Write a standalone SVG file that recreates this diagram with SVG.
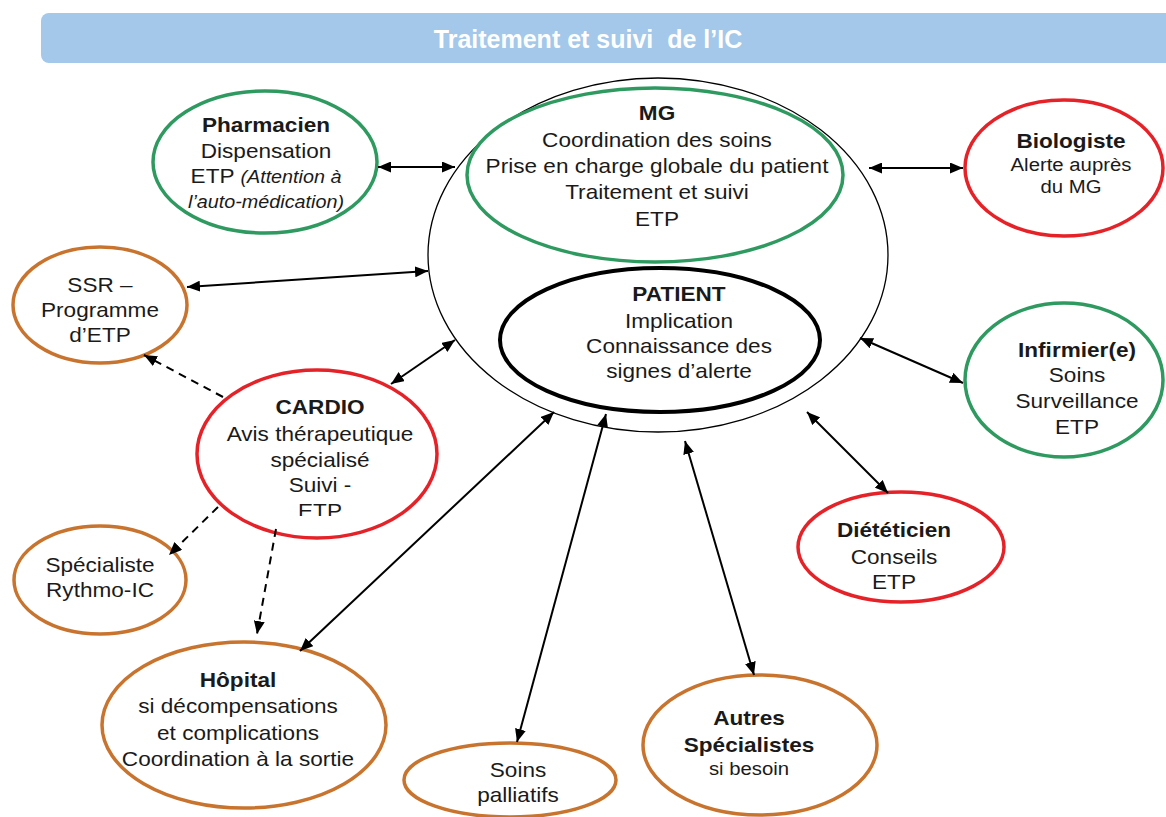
<svg xmlns="http://www.w3.org/2000/svg" width="1166" height="817" viewBox="0 0 1166 817">
<style>
text{font-family:"Liberation Sans",Arial,sans-serif;font-size:20px;fill:#1a1a1a;text-anchor:middle}
.b{font-weight:bold}
.s{font-size:18px}
.i{font-style:italic;font-size:17.5px}
.green{fill:#fff;stroke:#2e9a60;stroke-width:3.5}
.red{fill:#fff;stroke:#e52228;stroke-width:3.5}
.orange{fill:#fff;stroke:#c8742e;stroke-width:3.5}
.con{stroke:#000;stroke-width:2;fill:none;marker-start:url(#ah);marker-end:url(#ah)}
.dash{stroke:#000;stroke-width:2;fill:none;stroke-dasharray:8 6;marker-end:url(#ah)}
</style>
<defs>
<marker id="ah" markerUnits="userSpaceOnUse" markerWidth="13" markerHeight="11" refX="13" refY="5.5" orient="auto-start-reverse">
<path d="M0,0 L13,5.5 L0,11 z" fill="#000"/>
</marker>
<clipPath id="cardioClip"><rect x="200" y="360" width="240" height="156"/></clipPath>
</defs>
<rect x="0" y="0" width="1166" height="817" fill="#fff"/>
<g id="title">
<rect x="41" y="13" width="1140" height="50" rx="8" fill="#a3c8ea"/>
<text x="588" y="48" class="b" style="fill:#fff;font-size:25px">Traitement et suivi&#160; de l’IC</text>
</g>
<g id="center">
<ellipse cx="658" cy="255" rx="230" ry="177" fill="#fff" stroke="#000" stroke-width="1.3"/>
</g>
<g id="mg">
<ellipse cx="655" cy="175" rx="188" ry="87" class="green"/>
<g transform="translate(657 0) scale(1.13 1)">
<text x="0" y="120" class="b">MG</text>
<text x="0" y="147">Coordination des soins</text>
<text x="0" y="173">Prise en charge globale du patient</text>
<text x="0" y="199">Traitement et suivi</text>
<text x="0" y="226">ETP</text>
</g>
</g>
<g id="patient">
<ellipse cx="660" cy="340" rx="160" ry="72" fill="#fff" stroke="#000" stroke-width="4"/>
<g transform="translate(679 0) scale(1.13 1)">
<text x="0" y="301" class="b">PATIENT</text>
<text x="0" y="328">Implication</text>
<text x="0" y="353">Connaissance des</text>
<text x="0" y="378">signes d’alerte</text>
</g>
</g>
<g id="pharmacien">
<ellipse cx="265" cy="162" rx="112" ry="71" class="green"/>
<g transform="translate(266 0) scale(1.13 1)">
<text x="0" y="132" class="b">Pharmacien</text>
<text x="0" y="158">Dispensation</text>
<text x="0" y="183">ETP <tspan class="i">(Attention à</tspan></text>
<text x="0" y="208" class="i">l’auto-médication)</text>
</g>
</g>
<g id="biologiste">
<ellipse cx="1064" cy="168" rx="99" ry="68" class="red"/>
<g transform="translate(1071 0) scale(1.13 1)">
<text x="0" y="148" class="b">Biologiste</text>
<text x="0" y="171" class="s">Alerte auprès</text>
<text x="0" y="193" class="s">du MG</text>
</g>
</g>
<g id="infirmier">
<ellipse cx="1064" cy="380" rx="99" ry="77" class="green"/>
<g transform="translate(1077 0) scale(1.13 1)">
<text x="0" y="357" class="b">Infirmier(e)</text>
<text x="0" y="382">Soins</text>
<text x="0" y="408">Surveillance</text>
<text x="0" y="434">ETP</text>
</g>
</g>
<g id="ssr">
<ellipse cx="100" cy="305" rx="87" ry="58" class="orange"/>
<g transform="translate(100 0) scale(1.13 1)">
<text x="0" y="292">SSR –</text>
<text x="0" y="317">Programme</text>
<text x="0" y="342">d’ETP</text>
</g>
</g>
<g id="cardio">
<ellipse cx="317" cy="454" rx="120" ry="84" class="red"/>
<g transform="translate(320 0) scale(1.13 1)">
<text x="0" y="414" class="b">CARDIO</text>
<text x="0" y="441">Avis thérapeutique</text>
<text x="0" y="467">spécialisé</text>
<text x="0" y="492">Suivi -</text>
</g>
<g clip-path="url(#cardioClip)">
<g transform="translate(320 0) scale(1.13 1)">
<text x="0" y="518">ETP</text>
</g>
</g>
</g>
<g id="rythmo">
<ellipse cx="100" cy="580" rx="86" ry="54" class="orange"/>
<g transform="translate(100 0) scale(1.13 1)">
<text x="0" y="572">Spécialiste</text>
<text x="0" y="597">Rythmo-IC</text>
</g>
</g>
<g id="hopital">
<ellipse cx="244" cy="725" rx="142" ry="83" class="orange"/>
<g transform="translate(238 0) scale(1.13 1)">
<text x="0" y="687" class="b">Hôpital</text>
<text x="0" y="713">si décompensations</text>
<text x="0" y="740">et complications</text>
<text x="0" y="766">Coordination à la sortie</text>
</g>
</g>
<g id="palliatifs">
<ellipse cx="510" cy="780" rx="106" ry="37" class="orange"/>
<g transform="translate(518 0) scale(1.13 1)">
<text x="0" y="777">Soins</text>
<text x="0" y="802">palliatifs</text>
</g>
</g>
<g id="autres">
<ellipse cx="760" cy="745" rx="117" ry="70" class="orange"/>
<g transform="translate(749 0) scale(1.13 1)">
<text x="0" y="725" class="b">Autres</text>
<text x="0" y="752" class="b">Spécialistes</text>
<text x="0" y="775" class="s">si besoin</text>
</g>
</g>
<g id="dieteticien">
<ellipse cx="901" cy="547" rx="103" ry="55" class="red"/>
<g transform="translate(894 0) scale(1.13 1)">
<text x="0" y="537" class="b">Diététicien</text>
<text x="0" y="564">Conseils</text>
<text x="0" y="589">ETP</text>
</g>
</g>
<g id="connectors">
<line x1="378" y1="167" x2="455" y2="167" class="con"/>
<line x1="869" y1="168" x2="963" y2="168" class="con"/>
<line x1="187" y1="287" x2="428" y2="271" class="con"/>
<line x1="391" y1="384" x2="455" y2="340" class="con"/>
<line x1="860" y1="338" x2="963" y2="383" class="con"/>
<line x1="807" y1="412" x2="888" y2="493" class="con"/>
<line x1="685" y1="441" x2="754" y2="675" class="con"/>
<line x1="606" y1="414" x2="517" y2="742" class="con"/>
<line x1="554" y1="412" x2="300" y2="651" class="con"/>
<line x1="223" y1="397" x2="144" y2="355" class="dash"/>
<line x1="218" y1="507" x2="169" y2="555" class="dash"/>
<line x1="276" y1="529" x2="257" y2="634" class="dash"/>
</g>
</svg>
